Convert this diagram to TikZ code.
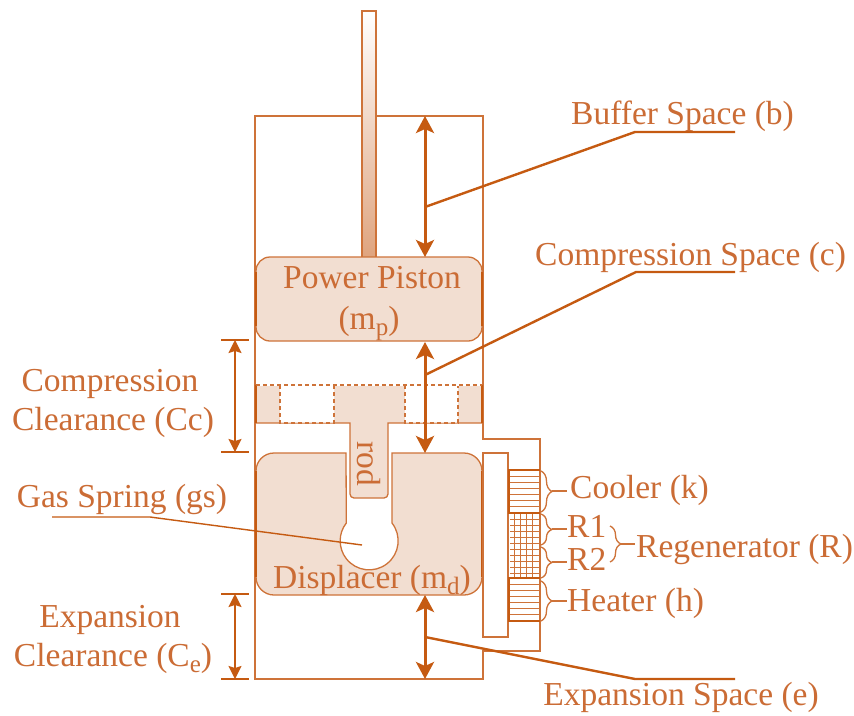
\documentclass[tikz,border=0pt]{standalone}
\usepackage{fontspec}
\setmainfont{Liberation Serif}
\usetikzlibrary{arrows.meta,decorations.pathreplacing}
\definecolor{ln}{HTML}{CE7339}
\definecolor{dk}{HTML}{C55A11}
\definecolor{fl}{HTML}{F2DED1}
\definecolor{tx}{HTML}{CB6C35}
\newcommand{\sbs}[1]{\raisebox{-6pt}{\fontsize{25}{25}\selectfont #1}}
\tikzset{
  thinln/.style={draw=ln,line width=1.2pt},
  partfill/.style={fill=fl,draw=ln,line width=1.3pt},
  flow/.style={draw=dk,line width=3pt,{Stealth[length=17pt,width=18pt,inset=4pt]}-{Stealth[length=17pt,width=18pt,inset=4pt]}},
  dimarrow/.style={draw=dk,line width=1.6pt,{Stealth[length=13pt,width=13pt,inset=2pt]}-{Stealth[length=13pt,width=13pt,inset=2pt]}},
  tick/.style={draw=dk,line width=1.6pt},
  leader/.style={draw=dk,line width=2.4pt,line join=round},
  lbl/.style={text=tx,inner sep=0pt,anchor=base,font=\fontsize{33.5}{36}\selectfont},
  lbll/.style={lbl,anchor=base west},
  bracestyle/.style={draw=ln,line width=1.3pt,decorate,decoration={brace,amplitude=11pt,aspect=0.5}},
  finline/.style={draw=ln,line width=1pt},
}
\begin{document}
\begin{tikzpicture}[x=1pt,y=-1pt]
\useasboundingbox (0,0) rectangle (854,715);
\fill[white] (0,0) rectangle (854,715);
% cylinder
\draw[thinln] (255,116) -- (483,116) -- (483,439) -- (540,439) -- (540,651) -- (483,651) -- (483,679) -- (255,679) -- cycle;
% power rod
\shade[top color=white,bottom color=ln!65!white] (362,11) rectangle (376,257);
\draw[thinln,line width=1.4pt] (362,257) -- (362,11) -- (376,11) -- (376,257);
% power piston
\draw[partfill,rounded corners=14pt] (256,257) rectangle (482,341);
\draw[dk,line width=2pt] (256,272) -- (256,326) (482,272) -- (482,326);
% displacer
\path[partfill] (346,453) -- (274,453) arc[start angle=-90,end angle=-180,radius=18] -- (256,577) arc[start angle=180,end angle=90,radius=18] -- (464,595) arc[start angle=90,end angle=0,radius=18] -- (482,471) arc[start angle=0,end angle=-90,radius=18] -- (392,453) -- (392,523) arc[start angle=-38,end angle=218,radius=29] -- cycle;
\draw[dk,line width=2pt] (256,471) -- (256,577) (482,471) -- (482,577);
% displacer plate and rod
\path[partfill] (256,385) -- (482,385) -- (482,423) -- (388,423) [rounded corners=4pt] -- (388,498) -- (350,498) [sharp corners] -- (350,423) -- (256,423) -- cycle;
\draw[dk,line width=2pt] (256,385) -- (256,423) (482,385) -- (482,423);
\fill[white] (280,384) rectangle (334,422.5) (405,384) rectangle (458,422.5);
\draw[ln,line width=1.1pt,dash pattern=on 4pt off 3pt] (280,385) rectangle (334,423) (405,385) rectangle (458,423);
\draw[white,line width=1.6pt] (256,385) -- (482,385);
\draw[ln,line width=1.1pt,dash pattern=on 4pt off 3pt] (256,385) -- (482,385);
% side passage
\draw[thinln] (483,453) -- (508,453) -- (508,637) -- (483,637) -- cycle;
% exchangers
\foreach \yy in {476,482,...,508}{\draw[finline] (510,\yy) -- (540,\yy);}
\foreach \yy in {584,590,...,616}{\draw[finline] (510,\yy) -- (540,\yy);}
\foreach \yy in {519,525,...,573}{\draw[finline,line width=.7pt] (510,\yy) -- (540,\yy);}
\foreach \xx in {514,520,...,536}{\draw[finline,line width=.7pt] (\xx,513) -- (\xx,578);}
\draw[ln,line width=1.4pt] (508,470) rectangle (540,513) (508,578) rectangle (540,621);
\draw[ln,line width=1pt] (508,513) rectangle (540,578);
\draw[dk,line width=2.6pt] (509,470) -- (509,513) (509,578) -- (509,621);
\draw[dk,line width=1.8pt] (508,470) -- (540,470) (508,513) -- (540,513) (508,578) -- (540,578) (508,621) -- (540,621);
% flow arrows
\coordinate (bt) at (425,116); \coordinate (bb) at (425,257);
\coordinate (ct) at (425,342); \coordinate (cb) at (425,453);
\coordinate (et) at (425,595); \coordinate (eb) at (425,679);
\draw[flow] (bt) -- (bb);
\draw[flow] (ct) -- (cb);
\draw[flow] (et) -- (eb);
% leaders
\coordinate (bs) at (425,207); \coordinate (bk) at (635,132); \coordinate (be) at (735,132);
\coordinate (cs) at (425,375); \coordinate (ck) at (636,272); \coordinate (ce) at (735,272);
\coordinate (es) at (425,637); \coordinate (ek) at (635,679); \coordinate (ee) at (735,679);
\draw[leader] (bs) -- (bk) -- (be);
\draw[leader] (cs) -- (ck) -- (ce);
\draw[leader] (es) -- (ek) -- (ee);
\coordinate (gs) at (52,517); \coordinate (gk) at (150,517); \coordinate (ge) at (362,545);
\draw[leader,line width=1.4pt] (gs) -- (gk) -- (ge);
% left dimensions
\coordinate (c1) at (235,340); \coordinate (c2) at (235,452);
\coordinate (e1) at (235,594); \coordinate (e2) at (235,679);
\draw[dimarrow] (c1) -- (c2);
\draw[dimarrow] (e1) -- (e2);
\draw[tick] (221,340) -- (249,340) (221,452) -- (249,452) (221,594) -- (249,594) (221,679) -- (249,679);
% braces
\draw[bracestyle] (541,471) -- (541,512);
\draw[bracestyle] (541,514) -- (541,545);
\draw[bracestyle] (541,547) -- (541,578);
\draw[bracestyle] (541,581) -- (541,621);
\draw[bracestyle] (610,526) -- (610,562);
\draw[ln,line width=1.3pt] (552,491) -- (567,491) (552,529) -- (567,529) (552,562) -- (567,562) (552,601) -- (567,601) (621,544) -- (635,544);
% labels
\node[lbll] (lb) at (571,124) {Buffer Space (b)};
\node[lbll] (lc) at (535,265) {Compression Space (c)};
\node[lbl] (lpp) at (372,288) {Power Piston};
\node[lbl] (lmp) at (369,329) {(m\sbs{p})};
\node[lbl] (lcc1) at (110,391) {Compression};
\node[lbl] (lcc2) at (113,430) {Clearance (Cc)};
\node[lbl] (lgs) at (122,507) {Gas Spring (gs)};
\node[lbl] (ldm) at (372,588) {Displacer (m\sbs{d})};
\node[lbl,anchor=center,rotate=-90] (lrod) at (369,464) {rod};
\node[lbll] (lk) at (570,498) {Cooler (k)};
\node[lbll] (lr1) at (567,537) {R1};
\node[lbll] (lr2) at (567,570) {R2};
\node[lbll] (lrg) at (636,557) {Regenerator (R)};
\node[lbll] (lh) at (567,611) {Heater (h)};
\node[lbl] (le) at (681,705) {Expansion Space (e)};
\node[lbl] (lec1) at (110,627) {Expansion};
\node[lbl] (lec2) at (113,666) {Clearance (C\sbs{e})};
\end{tikzpicture}
\end{document}
